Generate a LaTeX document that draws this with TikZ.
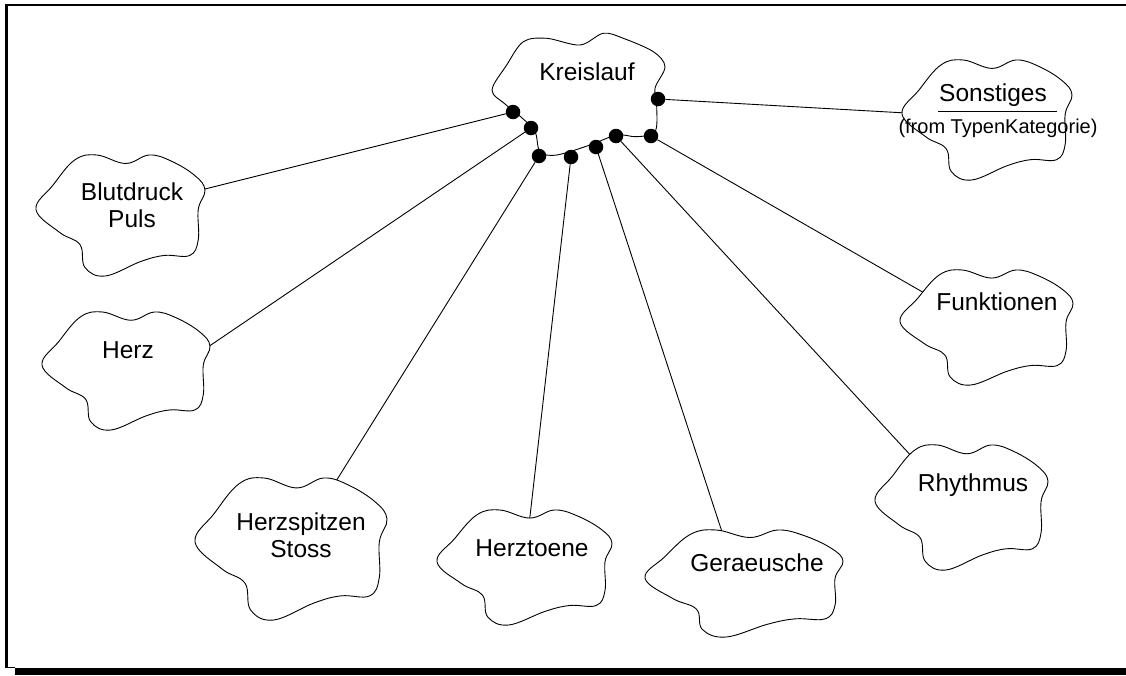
\documentclass[tikz,border=0pt]{standalone}
\usepackage{fontspec}
\setmainfont{Liberation Sans}
% generic cloud outline, placed by its bounding box (left, top, width, height)
\newcommand\rosecloud[4]{%
  \path[cloudline, shift={(#1,#2)}, xscale=#3, yscale=#4]
    plot[smooth cycle, tension=0.65] coordinates {(0,0.45) (0.1,0.25) (0.23,0.04) (0.36,0)
      (0.53,0.07) (0.67,0) (0.8,0.05) (0.94,0.17) (1,0.29) (0.96,0.45) (0.96,0.7)
      (0.91,0.83) (0.76,0.83) (0.62,0.88) (0.41,1) (0.29,0.93) (0.26,0.74) (0.14,0.64)};}
\begin{document}
\begin{tikzpicture}[x=1pt,y=-1pt,
  cloudline/.style={draw=black, line width=0.9pt, fill=white, line join=round},
  link/.style={draw=black, line width=0.9pt},
  port/.style={circle, fill=black, inner sep=0pt, minimum size=14.5pt},
  label/.style={font=\fontsize{24.5}{27}\selectfont, align=center, inner sep=0pt},
  sublabel/.style={font=\fontsize{20}{22}\selectfont, inner sep=0pt}]
\useasboundingbox (0,0) rectangle (1126,675);

% page frame with drop shadow
\fill (5,4) rectangle (1126,6.3);
\fill (5,4) rectangle (8,668);
\fill (5,666.8) rectangle (15,668);
\fill (15,668) rectangle (1126,675);

% central class
\path[cloudline] plot[smooth cycle, tension=0.55] coordinates {(492,90) (506.7,65)
  (523.3,41.7) (546.7,38.3) (580,45) (603.3,33.3) (623.3,38.3) (653.3,51.7) (665,66.7)
  (655,88.3) (656.7,106.7) (655,131.7) (636.7,136.7) (616.7,135) (590,145) (556.7,155)
  (540,151.7) (535,131.7) (521,117) (505,104)};

% aggregation ports
\node[port] (p1) at (513,112) {};
\node[port] (p2) at (531,128) {};
\node[port] (p3) at (539,156) {};
\node[port] (p4) at (571,157) {};
\node[port] (p5) at (596,147) {};
\node[port] (p6) at (616,136) {};
\node[port] (p7) at (651,136) {};
\node[port] (p8) at (658,99) {};

% attachment points on the part classes
\coordinate (eBlut) at (201,190);
\coordinate (eHerz) at (205,349);
\coordinate (eSpitz) at (333,486);
\coordinate (eToene) at (529,525);
\coordinate (eGer) at (724,538);
\coordinate (eRhy) at (914,459);
\coordinate (eFunk) at (926,294);
\coordinate (eSon) at (906,113);

\draw[link] (p1) -- (eBlut);
\draw[link] (p2) -- (eHerz);
\draw[link] (p3) -- (eSpitz);
\draw[link] (p4) -- (eToene);
\draw[link] (p5) -- (eGer);
\draw[link] (p6) -- (eRhy);
\draw[link] (p7) -- (eFunk);
\draw[link] (p8) -- (eSon);

% part classes
\rosecloud{36}{155}{169}{121}
\rosecloud{42}{312}{168}{118}
\rosecloud{195}{478}{192}{142}
\rosecloud{437}{510}{175}{115}
\rosecloud{645}{530}{198}{107}
\rosecloud{875}{445}{173}{125}
\rosecloud{900}{270}{173}{115}
\rosecloud{902}{60}{170}{120}

% class names
\node[label] (kreis) at (587,72) {Kreislauf};
\node[label] (blut) at (132,205) {Blutdruck\\Puls};
\node[label] (herz) at (128,350) {Herz};
\node[label] (spitz) at (301,535) {Herzspitzen\\Stoss};
\node[label] (toene) at (532,548) {Herztoene};
\node[label] (ger) at (757,563) {Geraeusche};
\node[label] (rhy) at (973,485) {Rhythmus};
\node[label] (funk) at (997,302) {Funktionen};
\node[label] (son) at (993,95) {Sonstiges};
\coordinate (sepL) at (938,111);
\coordinate (sepR) at (1057,111);
\draw[link] (sepL) -- (sepR);
\node[sublabel] (sonpkg) at (998,128) {(from TypenKategorie)};
\end{tikzpicture}
\end{document}
